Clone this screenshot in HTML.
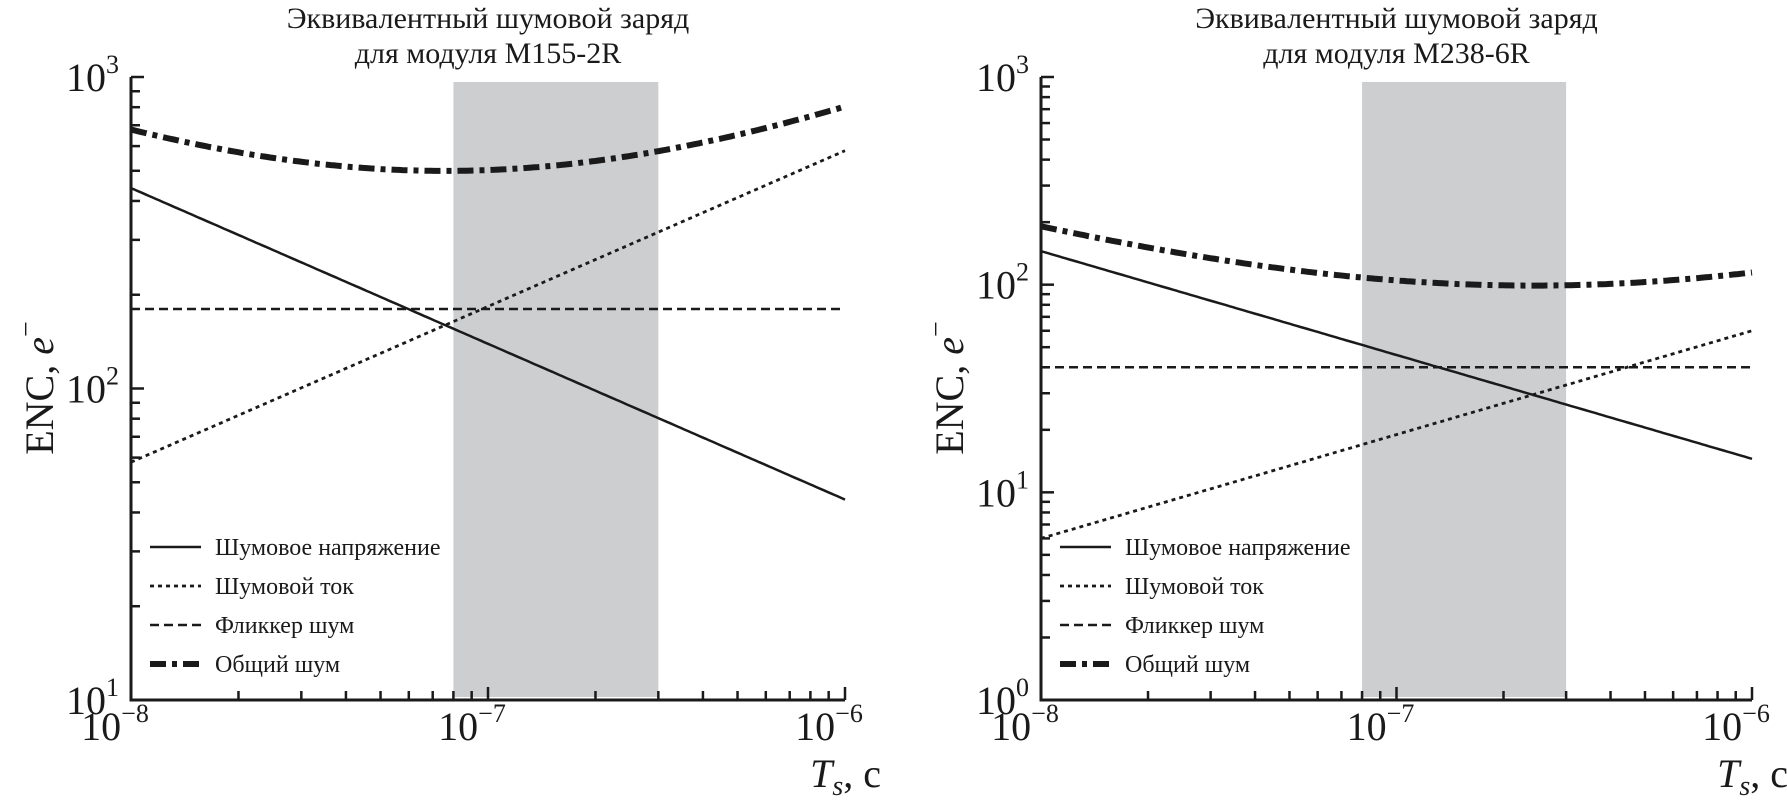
<!DOCTYPE html>
<html><head><meta charset="utf-8">
<style>
html,body{margin:0;padding:0;background:#fff;}
svg{display:block;}
text{font-family:"Liberation Serif","DejaVu Serif",serif;fill:#1a1a1a;}
</style></head>
<body>
<svg id="s" width="1787" height="811" viewBox="0 0 1787 811" xmlns="http://www.w3.org/2000/svg"></svg>
<script>
const S=document.getElementById('s');
const NS='http://www.w3.org/2000/svg';
function el(t,a,txt){const e=document.createElementNS(NS,t);for(const k in a)e.setAttribute(k,a[k]);if(txt!==undefined)e.textContent=txt;S.appendChild(e);return e;}
function plot(o){
  const L=o.L,R=o.R,T=77,B=700;
  const X=v=>L+(Math.log10(v)+8)/2*(R-L);
  const Y=v=>B-(Math.log10(v)-o.ymin)/(o.ymax-o.ymin)*(B-T);
  // band
  el('rect',{x:X(8e-8),y:T+5,width:X(3e-7)-X(8e-8),height:B-T-8,fill:'#cdced0'});
  // titles
  const cx=(L+R)/2;
  el('text',{x:cx,y:28,'text-anchor':'middle','font-size':30},'Эквивалентный шумовой заряд');
  el('text',{x:cx,y:63,'text-anchor':'middle','font-size':30},o.title2);
  // curves
  const N=200;
  function path(f){let d='';for(let i=0;i<=N;i++){const lt=-8+2*i/N,t=Math.pow(10,lt);d+=(i?'L':'M')+X(t).toFixed(1)+','+Y(f(t)).toFixed(1);}return d;}
  const V=t=>o.v0*Math.pow(t/1e-8,-0.5), I=t=>o.i0*Math.pow(t/1e-8,0.5), F=t=>o.f;
  el('path',{d:path(V),fill:'none',stroke:'#1a1a1a','stroke-width':2.5});
  el('path',{d:path(I),fill:'none',stroke:'#1a1a1a','stroke-width':2.8,'stroke-dasharray':'4 4'});
  el('path',{d:path(F),fill:'none',stroke:'#1a1a1a','stroke-width':2.5,'stroke-dasharray':'9 5'});
  el('path',{d:path(t=>V(t)+I(t)+F(t)),fill:'none',stroke:'#1a1a1a','stroke-width':6,'stroke-dasharray':'16 6 5 6'});
  // axes
  el('path',{d:`M${L},${T}L${L},${B}L${R},${B}`,fill:'none',stroke:'#1a1a1a','stroke-width':3});
  // y ticks
  for(let d=o.ymin;d<=o.ymax;d++){
    const y=Y(Math.pow(10,d));
    el('line',{x1:L,x2:L+13,y1:y,y2:y,stroke:'#1a1a1a','stroke-width':2.5});
    const t=el('text',{x:L-12,y:y+14,'text-anchor':'end','font-size':40},'10');
    const ts=document.createElementNS(NS,'tspan');ts.setAttribute('dy','-18');ts.setAttribute('font-size','26');ts.textContent=d;t.appendChild(ts);
    if(d<o.ymax)for(let m=2;m<=9;m++){const yy=Y(m*Math.pow(10,d));el('line',{x1:L,x2:L+9,y1:yy,y2:yy,stroke:'#1a1a1a','stroke-width':2.5});}
  }
  // x ticks
  for(let d=-8;d<=-6;d++){
    const x=X(Math.pow(10,d));
    el('line',{x1:x,x2:x,y1:B,y2:B-13,stroke:'#1a1a1a','stroke-width':2.5});
    const t=el('text',{x:x-16,y:B+40,'text-anchor':'middle','font-size':40},'10');
    const ts=document.createElementNS(NS,'tspan');ts.setAttribute('dy','-18');ts.setAttribute('font-size','26');ts.textContent='−'+(-d);t.appendChild(ts);
    if(d<-6)for(let m=2;m<=9;m++){const xx=X(m*Math.pow(10,d));el('line',{x1:xx,x2:xx,y1:B,y2:B-9,stroke:'#1a1a1a','stroke-width':2.5});}
  }
  // y label
  const yl=el('text',{x:0,y:0,'text-anchor':'middle','font-size':40,transform:`translate(${L-78},388) rotate(-90)`},'ENC, ');
  const e1=document.createElementNS(NS,'tspan');e1.setAttribute('font-style','italic');e1.textContent='e';yl.appendChild(e1);
  const e2=document.createElementNS(NS,'tspan');e2.setAttribute('dy','-18');e2.setAttribute('font-size','28');e2.textContent='−';yl.appendChild(e2);
  // x label
  const xl=el('text',{x:R+36,y:787,'text-anchor':'end','font-size':40});
  const a=document.createElementNS(NS,'tspan');a.setAttribute('font-style','italic');a.textContent='T';xl.appendChild(a);
  const b=document.createElementNS(NS,'tspan');b.setAttribute('font-style','italic');b.setAttribute('font-size','28');b.setAttribute('dy','8');b.textContent='s';xl.appendChild(b);
  const c=document.createElementNS(NS,'tspan');c.setAttribute('dy','-8');c.textContent=', c';xl.appendChild(c);
  // legend
  const lx=L+19, ys=[547,586,625,664];
  const labels=['Шумовое напряжение','Шумовой ток','Фликкер шум','Общий шум'];
  const st=[{w:2.5},{w:2.8,d:'4 4'},{w:2.5,d:'9 5'},{w:6,d:'16 6 5 6'}];
  for(let i=0;i<4;i++){
    const a={x1:lx,x2:lx+51,y1:ys[i],y2:ys[i],stroke:'#1a1a1a','stroke-width':st[i].w};
    if(st[i].d)a['stroke-dasharray']=st[i].d;
    el('line',a);
    el('text',{x:lx+65,y:ys[i]+8,'font-size':24},labels[i]);
  }
}
plot({L:131,R:845,ymin:1,ymax:3,title2:'для модуля M155-2R',v0:440,i0:58,f:180});
plot({L:1041,R:1752,ymin:0,ymax:3,title2:'для модуля M238-6R',v0:145,i0:6,f:40});
</script>
</body></html>
